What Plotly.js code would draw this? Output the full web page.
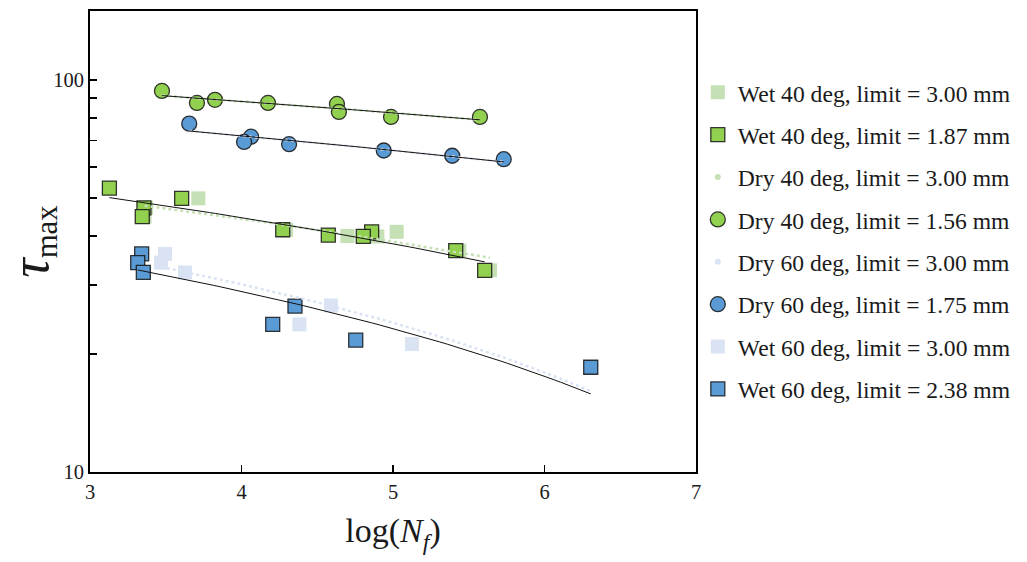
<!DOCTYPE html>
<html>
<head>
<meta charset="utf-8">
<script src="https://cdn.plot.ly/plotly-3.0.1.min.js"></script>
<style>
html,body{margin:0;padding:0;background:#fff;}
#chart{width:1027px;height:562px;}
</style>
</head>
<body>
<div id="chart"></div>
<script>
// ---- Data (x = log(Nf), y = tau_max) ----
const seriesNames = [
  "Wet 40 deg, limit = 3.00 mm",
  "Wet 40 deg, limit = 1.87 mm",
  "Dry 40 deg, limit = 3.00 mm",
  "Dry 40 deg, limit = 1.56 mm",
  "Dry 60 deg, limit = 3.00 mm",
  "Dry 60 deg, limit = 1.75 mm",
  "Wet 60 deg, limit = 3.00 mm",
  "Wet 60 deg, limit = 2.38 mm"
];

const wet40_300_x = [3.37, 3.36, 3.715, 4.294, 4.699, 4.897, 5.024, 5.438, 5.640];
const wet40_300_y = [47.2, 44.8, 49.9, 41.5, 40.0, 39.9, 41.0, 36.7, 32.7];

const wet40_187_x = [3.128, 3.356, 3.345, 3.605, 4.272, 4.573, 4.859, 4.804, 5.414, 5.605];
const wet40_187_y = [53.0, 47.2, 44.8, 49.9, 41.5, 40.2, 41.0, 39.9, 36.7, 32.7];

const dry40_300_x = [3.475, 3.706, 3.825, 4.175, 4.630, 4.643, 4.987, 5.574];
const dry40_300_y = [93.8, 87.4, 89.0, 87.4, 86.9, 82.9, 80.5, 80.5];

const dry40_156_x = [3.475, 3.706, 3.825, 4.175, 4.630, 4.643, 4.987, 5.574];
const dry40_156_y = [93.8, 87.4, 89.0, 87.4, 86.9, 82.9, 80.5, 80.5];

const dry60_300_x = [3.655, 4.063, 4.017, 4.314, 4.939, 5.391, 5.731];
const dry60_300_y = [77.4, 71.7, 69.5, 68.6, 66.1, 64.1, 62.8];

const dry60_175_x = [3.655, 4.063, 4.017, 4.314, 4.939, 5.391, 5.731];
const dry60_175_y = [77.4, 71.7, 69.5, 68.6, 66.1, 64.1, 62.8];

const wet60_300_x = [3.495, 3.469, 3.627, 4.591, 4.382, 5.125, 6.31];
const wet60_300_y = [36.0, 34.2, 32.3, 26.6, 23.8, 21.2, 18.5];

const wet60_238_x = [3.341, 3.315, 3.352, 4.353, 4.206, 4.754, 6.305];
const wet60_238_y = [36.0, 34.2, 32.3, 26.5, 23.8, 21.7, 18.5];

const xTickVals = [3, 4, 5, 6, 7];
const yTickVals = [10, 100];
const yMinorVals = [20, 30, 40, 50, 60, 70, 80, 90];

// ---- Styles ----
const GREEN = "#92d050", LGREEN = "#c5e0b4", BLUE = "#5b9bd5", LBLUE = "#dae3f3";
const EDGE = {color: "rgba(20,20,20,0.85)", width: 1.3};
const FONT = "Liberation Serif";

// linear least-squares trendline (tau vs logN), sampled between min and max x
function trend(xs, ys, n) {
  const m = xs.length;
  const mx = xs.reduce((a, b) => a + b, 0) / m;
  const my = ys.reduce((a, b) => a + b, 0) / m;
  let sxy = 0, sxx = 0;
  for (let i = 0; i < m; i++) { sxy += (xs[i] - mx) * (ys[i] - my); sxx += (xs[i] - mx) ** 2; }
  const b = sxy / sxx, a = my - b * mx;
  const x0 = Math.min(...xs), x1 = Math.max(...xs);
  const tx = [], ty = [];
  for (let i = 0; i <= n; i++) { const x = x0 + (x1 - x0) * i / n; tx.push(x); ty.push(a + b * x); }
  return {x: tx, y: ty};
}

const traces = [];
function pts(x, y, name, symbol, size, color, line, gi) {
  traces.push({
    x: x, y: y, name: name, type: "scatter", mode: "markers",
    legendgroup: "g" + gi,
    marker: {symbol: symbol, size: size, color: color, line: line || {width: 0}},
    hoverinfo: "skip"
  });
}
pts(wet40_300_x, wet40_300_y, seriesNames[0], "square", 14, LGREEN, null, 0);
pts(wet40_187_x, wet40_187_y, seriesNames[1], "square", 14, GREEN, EDGE, 1);
pts(dry40_300_x, dry40_300_y, seriesNames[2], "circle", 6, LGREEN, null, 2);
pts(dry40_156_x, dry40_156_y, seriesNames[3], "circle", 15, GREEN, EDGE, 3);
pts(dry60_300_x, dry60_300_y, seriesNames[4], "circle", 6, LBLUE, null, 4);
pts(dry60_175_x, dry60_175_y, seriesNames[5], "circle", 15, BLUE, EDGE, 5);
pts(wet60_300_x, wet60_300_y, seriesNames[6], "square", 14, LBLUE, null, 6);
pts(wet60_238_x, wet60_238_y, seriesNames[7], "square", 14, BLUE, EDGE, 7);

function tl(xs, ys, color, width, dash) {
  const t = trend(xs, ys, 60);
  traces.push({x: t.x, y: t.y, type: "scatter", mode: "lines", showlegend: false,
    line: {color: color, width: width, dash: dash}, hoverinfo: "skip"});
}
tl(wet40_300_x, wet40_300_y, LGREEN, 2.5, "dot");
tl(dry40_300_x, dry40_300_y, LGREEN, 2.5, "dot");
tl(dry60_300_x, dry60_300_y, LBLUE, 2.5, "dot");
tl(wet60_300_x, wet60_300_y, LBLUE, 2.5, "dot");
tl(wet40_187_x, wet40_187_y, "#111", 1, "solid");
tl(dry40_156_x, dry40_156_y, "#111", 1, "solid");
tl(dry60_175_x, dry60_175_y, "#111", 1, "solid");
tl(wet60_238_x, wet60_238_y, "#111", 1, "solid");

const layout = {
  width: 1027, height: 562,
  margin: {l: 90, r: 331, t: 10.5, b: 90, pad: 0},
  paper_bgcolor: "#fff", plot_bgcolor: "#fff",
  font: {family: FONT, color: "#1a1a1a", size: 20},
  showlegend: true,
  legend: {
    x: 1.003, xanchor: "left", y: 0.871, yanchor: "top",
    font: {family: FONT, size: 23.6, color: "#1a1a1a"},
    traceorder: "grouped", tracegroupgap: 8.7,
    bgcolor: "rgba(0,0,0,0)", borderwidth: 0, itemsizing: "trace"
  },
  xaxis: {
    range: [3, 7], tickvals: xTickVals, ticktext: xTickVals.map(String),
    ticks: "inside", ticklen: 7, tickwidth: 1.5, tickcolor: "#000",
    showline: true, linecolor: "#000", linewidth: 2, mirror: true,
    showgrid: false, zeroline: false,
    tickfont: {family: FONT, size: 20.5, color: "#1a1a1a"},
    title: {text: "log(<i>N</i><sub><i>f</i></sub>)", font: {family: FONT, size: 34, color: "#1a1a1a"}, standoff: 17}
  },
  yaxis: {
    type: "log", range: [1, Math.log10(150)],
    tickvals: yTickVals, ticktext: yTickVals.map(String),
    ticks: "inside", ticklen: 7, tickwidth: 1.5, tickcolor: "#000",
    minor: {tickvals: yMinorVals, ticks: "inside", ticklen: 7, tickwidth: 1.5, tickcolor: "#000", showgrid: false},
    showline: true, linecolor: "#000", linewidth: 2, mirror: true,
    showgrid: false, zeroline: false,
    tickfont: {family: FONT, size: 20.5, color: "#1a1a1a"},
    title: {text: "<i><span style=\"font-size:54px\">τ</span></i><sub>max</sub>", font: {family: FONT, size: 44, color: "#1a1a1a"}, standoff: 8}
  }
};

Plotly.newPlot("chart", traces, layout, {displayModeBar: false, staticPlot: true});
</script>
</body>
</html>
